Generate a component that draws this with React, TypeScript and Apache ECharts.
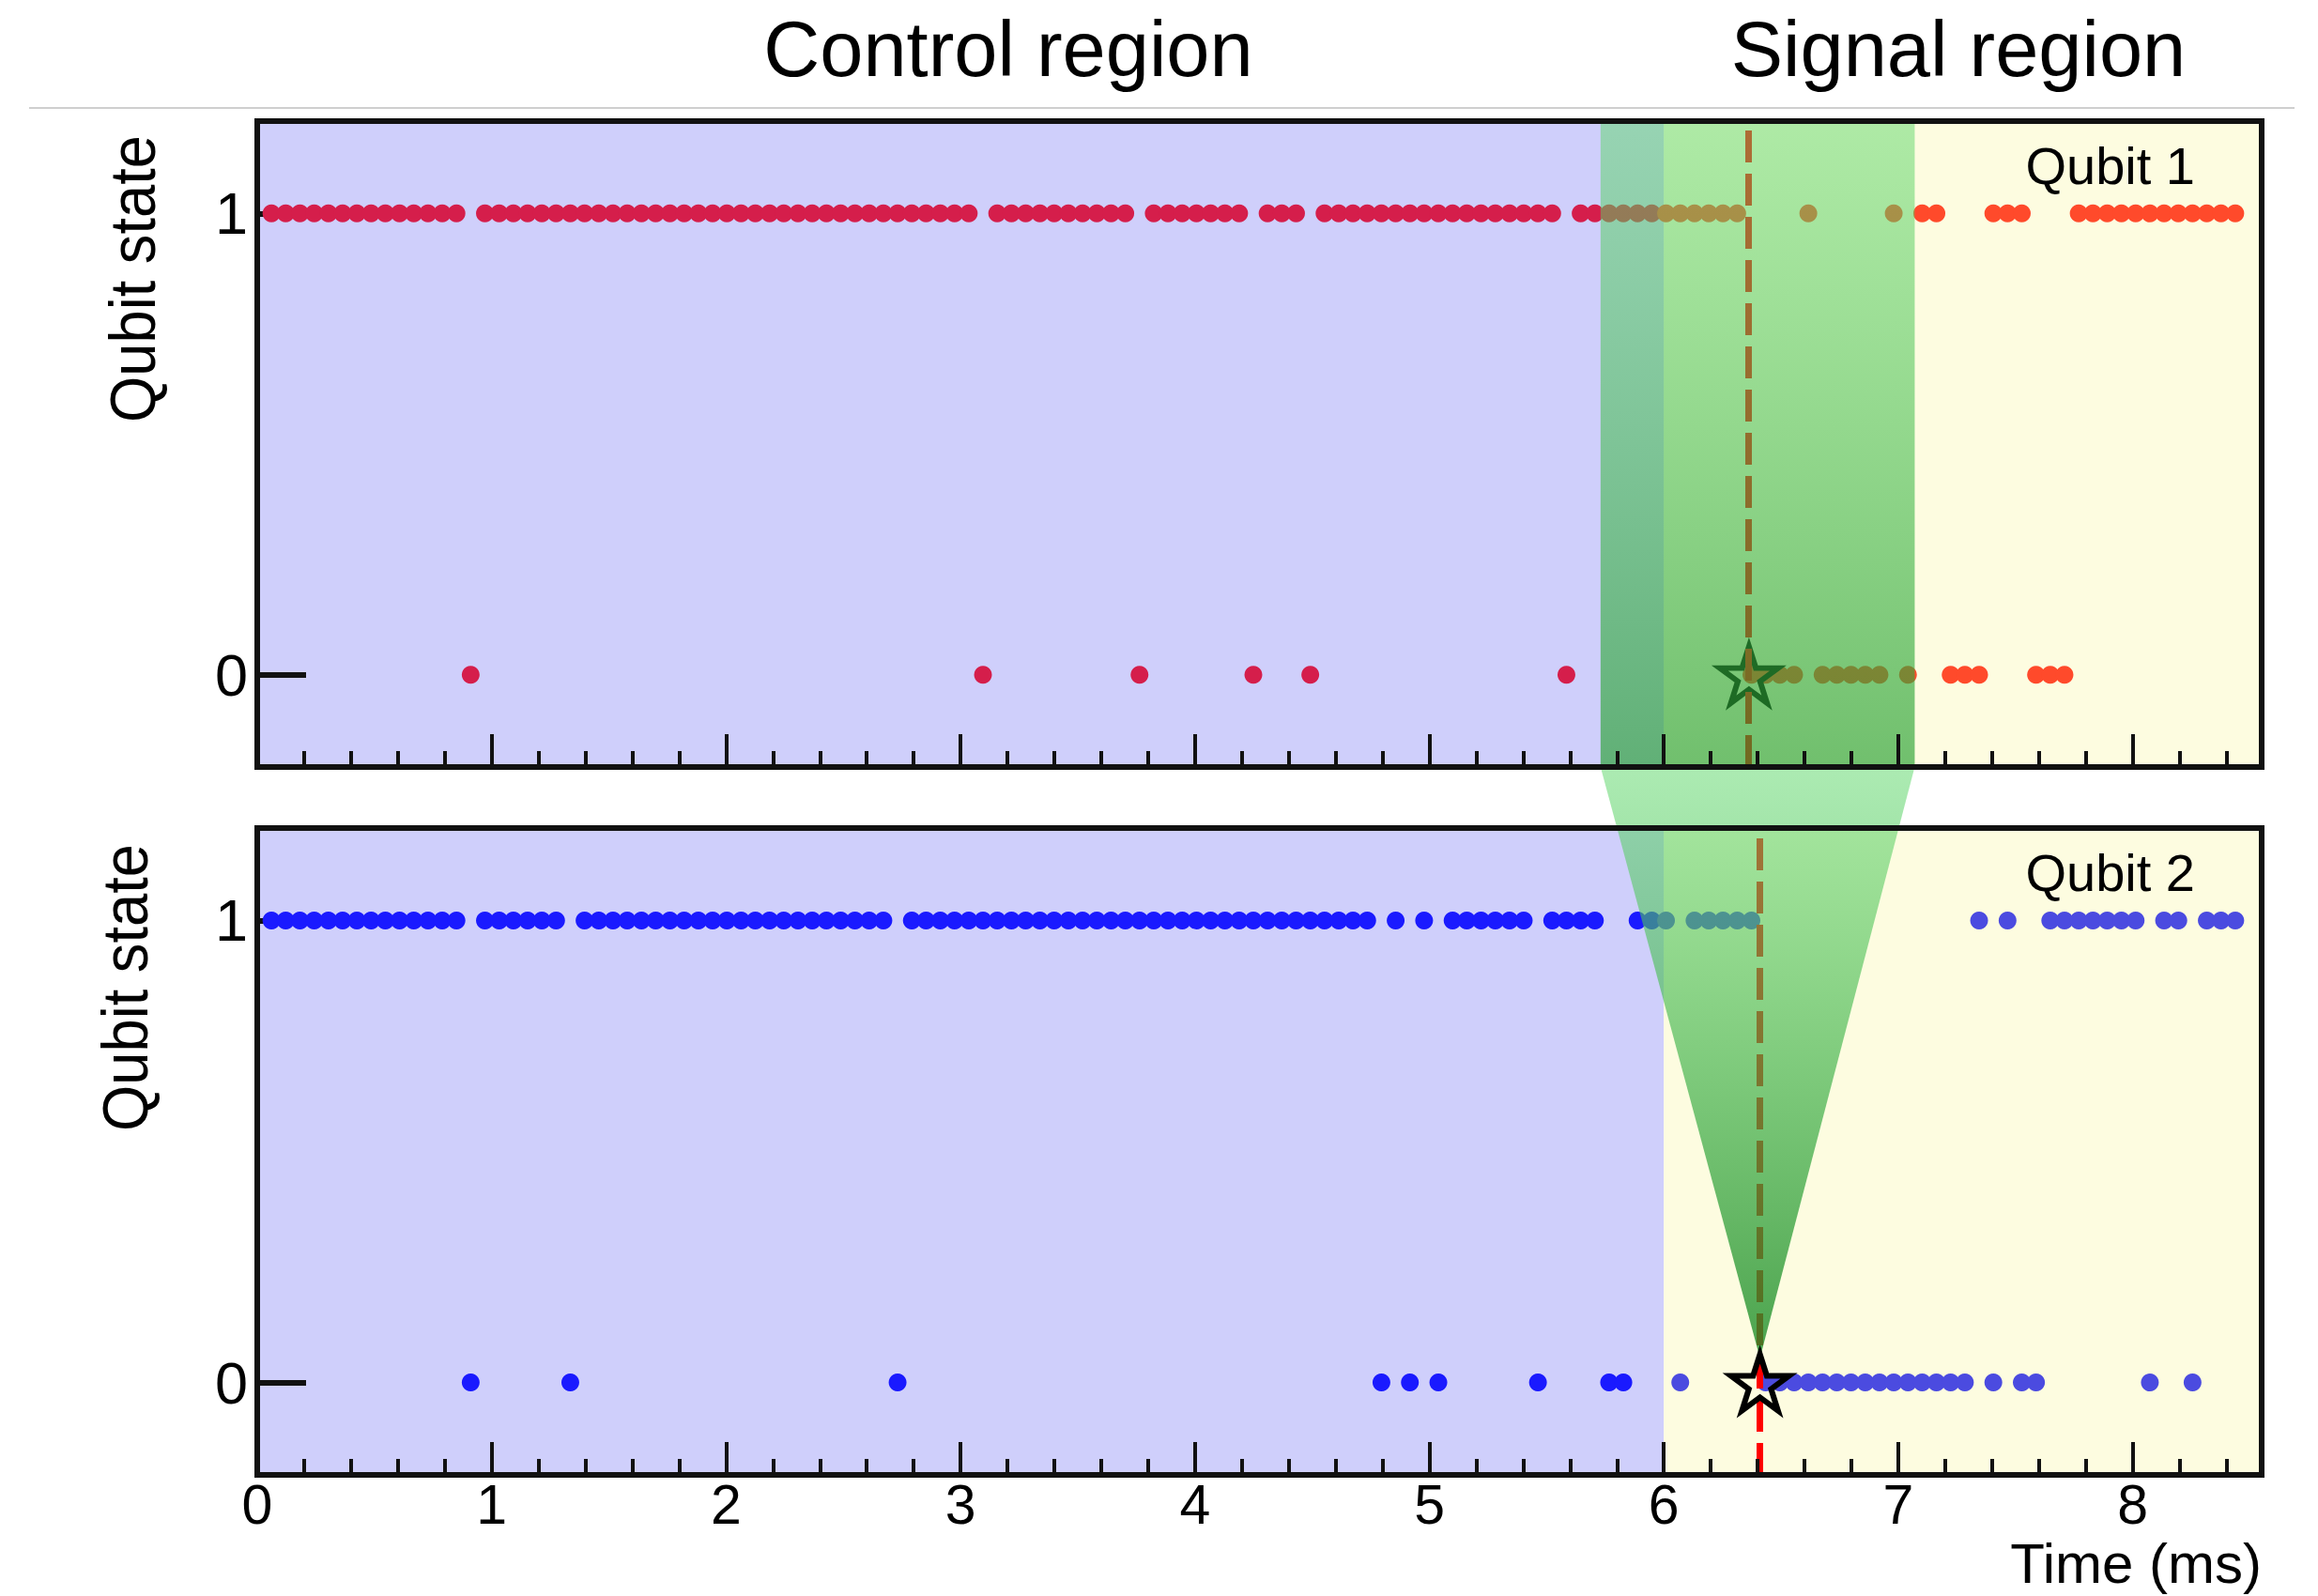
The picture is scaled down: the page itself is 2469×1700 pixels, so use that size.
import React, { useEffect, useRef } from "react";
import * as echarts from "echarts";

const FONT = '"Liberation Sans", Arial, Helvetica, sans-serif';

// Readouts every SAMPLE_INTERVAL_MS, readout index k = 1..139
const SAMPLE_INTERVAL_MS = 0.0607;

const QUBIT1_STATES = [
  1, 1, 1, 1, 1, 1, 1, 1, 1, 1,
  1, 1, 1, 1, 0, 1, 1, 1, 1, 1,
  1, 1, 1, 1, 1, 1, 1, 1, 1, 1,
  1, 1, 1, 1, 1, 1, 1, 1, 1, 1,
  1, 1, 1, 1, 1, 1, 1, 1, 1, 1,
  0, 1, 1, 1, 1, 1, 1, 1, 1, 1,
  1, 0, 1, 1, 1, 1, 1, 1, 1, 0,
  1, 1, 1, 0, 1, 1, 1, 1, 1, 1,
  1, 1, 1, 1, 1, 1, 1, 1, 1, 1,
  1, 0, 1, 1, 1, 1, 1, 1, 1, 1,
  1, 1, 1, 1, 0, 0, 0, 0, 1, 0,
  0, 0, 0, 0, 1, 0, 1, 1, 0, 0,
  0, 1, 1, 1, 0, 0, 0, 1, 1, 1,
  1, 1, 1, 1, 1, 1, 1, 1, 1,
];

const QUBIT2_STATES = [
  1, 1, 1, 1, 1, 1, 1, 1, 1, 1,
  1, 1, 1, 1, 0, 1, 1, 1, 1, 1,
  1, 0, 1, 1, 1, 1, 1, 1, 1, 1,
  1, 1, 1, 1, 1, 1, 1, 1, 1, 1,
  1, 1, 1, 1, 0, 1, 1, 1, 1, 1,
  1, 1, 1, 1, 1, 1, 1, 1, 1, 1,
  1, 1, 1, 1, 1, 1, 1, 1, 1, 1,
  1, 1, 1, 1, 1, 1, 1, 1, 0, 1,
  0, 1, 0, 1, 1, 1, 1, 1, 1, 0,
  1, 1, 1, 1, 0, 0, 1, 1, 1, 0,
  1, 1, 1, 1, 1, 0, 0, 0, 0, 0,
  0, 0, 0, 0, 0, 0, 0, 0, 0, 0,
  1, 0, 1, 0, 0, 1, 1, 1, 1, 1,
  1, 1, 0, 1, 1, 0, 1, 1, 1,
];

const X_MIN = 0;
const X_MAX = 8.55;
const Y_MIN = -0.2;
const Y_MAX = 1.2;
const X_MAJOR_TICKS = [0, 1, 2, 3, 4, 5, 6, 7, 8];
const X_MINOR_TICKS = [
  0.2, 0.4, 0.6, 0.8, 1.2, 1.4, 1.6, 1.8, 2.2, 2.4, 2.6, 2.8, 3.2, 3.4, 3.6, 3.8,
  4.2, 4.4, 4.6, 4.8, 5.2, 5.4, 5.6, 5.8, 6.2, 6.4, 6.6, 6.8, 7.2, 7.4, 7.6, 7.8,
  8.2, 8.4,
];
const Y_TICKS = [0, 1];

const CONTROL_REGION = [0, 6];
const SIGNAL_REGION = [6, 8.55];
const ZOOM_WINDOW = [5.73, 7.07];
const JUMP_TIMES = [6.363, 6.41]; // qubit 1, qubit 2

const REGION_TITLES = ["Control region", "Signal region"];
const PANEL_LABELS = ["Qubit 1", "Qubit 2"];
const Y_TITLE = "Qubit state";
const X_TITLE = "Time (ms)";

const COLORS = {
  control: "#CFCFFB",
  signal: "#FDFCE0",
  q1Control: "#D51E4B",
  q1Signal: "#FF4A2B",
  q2Control: "#1A1AFF",
  q2Signal: "#4B4BE0",
};

const STAR =
  "path://M50 0L61.2 34.5L97.6 34.5L68.2 55.9L79.4 90.5L50 69.1L20.6 90.5L31.8 55.9L2.4 34.5L38.8 34.5Z";

const GRIDS = [
  { left: 274, top: 129, width: 2135, height: 688 },
  { left: 274, top: 882, width: 2135, height: 689 },
];

function points(states: number[]) {
  return states.map((s, i) => [(i + 1) * SAMPLE_INTERVAL_MS, s]);
}

export default function App() {
  const ref = useRef<HTMLDivElement>(null);

  useEffect(() => {
    if (!ref.current) return;
    const chart = echarts.init(ref.current, undefined, { renderer: "svg" });

    const xAxes: any[] = [];
    const yAxes: any[] = [];
    GRIDS.forEach((_, gi) => {
      const base = { type: "value", gridIndex: gi, min: X_MIN, max: X_MAX, splitLine: { show: false } };
      xAxes.push({
        ...base,
        position: "bottom",
        z: 150,
        axisLine: { show: true, onZero: false, lineStyle: { color: "#111", width: 6, cap: "square" } },
        axisTick: { show: true, inside: true, length: 35, customValues: X_MAJOR_TICKS, lineStyle: { color: "#111", width: 4 } },
        axisLabel: {
          show: gi === 1,
          customValues: X_MAJOR_TICKS,
          fontSize: 59,
          lineHeight: 58,
          fontFamily: FONT,
          color: "#000",
          margin: 3,
        },
      });
      xAxes.push({
        ...base,
        position: "bottom",
        z: 150,
        axisLine: { show: false, onZero: false },
        axisTick: { show: true, inside: true, length: 17, customValues: X_MINOR_TICKS, lineStyle: { color: "#111", width: 4 } },
        axisLabel: { show: false },
      });
      xAxes.push({
        ...base,
        position: "top",
        z: 150,
        axisLine: { show: true, onZero: false, lineStyle: { color: "#111", width: 6, cap: "square" } },
        axisTick: { show: false },
        axisLabel: { show: false },
      });
      const ybase = { type: "value", gridIndex: gi, min: Y_MIN, max: Y_MAX, splitLine: { show: false } };
      yAxes.push({
        ...ybase,
        position: "left",
        z: 1.5,
        axisLine: { show: false, onZero: false },
        axisTick: { show: true, inside: true, length: 52, customValues: Y_TICKS, lineStyle: { color: "#111", width: 6 } },
        axisLabel: { show: true, customValues: Y_TICKS, fontSize: 63, fontFamily: FONT, color: "#000", margin: 10 },
      });
      yAxes.push({
        ...ybase,
        position: "left",
        z: 150,
        axisLine: { show: true, onZero: false, lineStyle: { color: "#111", width: 6, cap: "square" } },
        axisTick: { show: false },
        axisLabel: { show: false },
      });
      yAxes.push({
        ...ybase,
        position: "right",
        z: 150,
        axisLine: { show: true, onZero: false, lineStyle: { color: "#111", width: 6, cap: "square" } },
        axisTick: { show: false },
        axisLabel: { show: false },
      });
    });

    const qubits = [
      { states: QUBIT1_STATES, c: COLORS.q1Control, s: COLORS.q1Signal },
      { states: QUBIT2_STATES, c: COLORS.q2Control, s: COLORS.q2Signal },
    ];

    const series: any[] = [];
    qubits.forEach((q, gi) => {
      const pts = points(q.states);
      const xi = gi * 3;
      const yi = gi * 3;
      series.push({
        type: "scatter",
        xAxisIndex: xi,
        yAxisIndex: yi,
        z: 2,
        silent: true,
        symbol: "circle",
        symbolSize: 19,
        itemStyle: { color: q.c, opacity: 1 },
        data: pts.filter((p) => p[0] < SIGNAL_REGION[0]),
        markArea: {
          silent: true,
          z: 1,
          label: { show: false },
          data: [
            [{ xAxis: CONTROL_REGION[0], itemStyle: { color: COLORS.control, opacity: 1 } }, { xAxis: CONTROL_REGION[1] }],
            [{ xAxis: SIGNAL_REGION[0], itemStyle: { color: COLORS.signal, opacity: 1 } }, { xAxis: SIGNAL_REGION[1] }],
          ],
        },
        markLine: {
          silent: true,
          z: 5,
          symbol: ["none", "none"],
          label: { show: false },
          lineStyle: { color: "#FF0000", width: 7, type: [34, 12], opacity: 1 },
          data: [{ xAxis: JUMP_TIMES[gi] }],
        },
      });
      series.push({
        type: "scatter",
        xAxisIndex: xi,
        yAxisIndex: yi,
        z: 2,
        silent: true,
        symbol: "circle",
        symbolSize: 19,
        itemStyle: { color: q.s, opacity: 1 },
        data: pts.filter((p) => p[0] >= SIGNAL_REGION[0]),
      });
      series.push({
        type: "scatter",
        xAxisIndex: xi,
        yAxisIndex: yi,
        z: gi === 0 ? 3 : 200,
        silent: true,
        symbol: STAR,
        symbolSize: [62, 60],
        itemStyle: { color: "transparent", borderColor: "#000", borderWidth: 6, opacity: 1 },
        data: [[JUMP_TIMES[gi], 0]],
      });
    });

    chart.setOption({
      animation: false,
      backgroundColor: "#ffffff",
      grid: GRIDS.map((g) => ({ ...g, containLabel: false })),
      xAxis: xAxes,
      yAxis: yAxes,
      series,
    });

    const tl = chart.convertToPixel({ seriesIndex: 0 }, [ZOOM_WINDOW[0], Y_MAX]) as number[];
    const br = chart.convertToPixel({ seriesIndex: 0 }, [ZOOM_WINDOW[1], Y_MIN]) as number[];
    const apex = chart.convertToPixel({ seriesIndex: 3 }, [JUMP_TIMES[1], 0]) as number[];

    const textStyle = (extra: any) => ({ fontFamily: FONT, fill: "#000", ...extra });

    chart.setOption({
      graphic: [
        {
          type: "rect",
          z: 100,
          silent: true,
          shape: { x: tl[0], y: tl[1], width: br[0] - tl[0], height: br[1] - tl[1] },
          style: {
            fill: new echarts.graphic.LinearGradient(0, 0, 0, 1, [
              { offset: 0, color: "rgba(95,216,107,0.5)" },
              { offset: 1, color: "rgba(40,160,50,0.66)" },
            ]),
          },
        },
        {
          type: "polygon",
          z: 100,
          silent: true,
          shape: {
            points: [
              [tl[0], br[1]],
              [br[0], br[1]],
              [apex[0], apex[1] - 26],
            ],
          },
          style: {
            fill: new echarts.graphic.LinearGradient(0, 0, 0, 1, [
              { offset: 0, color: "rgba(95,216,107,0.52)" },
              { offset: 1, color: "rgba(30,140,40,0.8)" },
            ]),
          },
        },
        {
          type: "line",
          z: 10,
          silent: true,
          shape: { x1: 31, y1: 115, x2: 2444, y2: 115 },
          style: { stroke: "#CFCFCF", lineWidth: 2 },
        },
        {
          type: "text",
          z: 10,
          x: 1074,
          y: 52,
          style: textStyle({ text: REGION_TITLES[0], fontSize: 83, align: "center", verticalAlign: "middle" }),
        },
        {
          type: "text",
          z: 10,
          x: 2086,
          y: 52,
          style: textStyle({ text: REGION_TITLES[1], fontSize: 83, align: "center", verticalAlign: "middle" }),
        },
        {
          type: "text",
          z: 10,
          x: 142,
          y: 297,
          rotation: Math.PI / 2,
          scaleX: 0.93,
          style: textStyle({ text: Y_TITLE, fontSize: 68, align: "center", verticalAlign: "middle" }),
        },
        {
          type: "text",
          z: 10,
          x: 134,
          y: 1052,
          rotation: Math.PI / 2,
          scaleX: 0.93,
          style: textStyle({ text: Y_TITLE, fontSize: 68, align: "center", verticalAlign: "middle" }),
        },
        {
          type: "text",
          z: 160,
          x: 2338,
          y: 176,
          style: textStyle({ text: PANEL_LABELS[0], fontSize: 56, align: "right", verticalAlign: "middle" }),
        },
        {
          type: "text",
          z: 160,
          x: 2338,
          y: 929,
          style: textStyle({ text: PANEL_LABELS[1], fontSize: 56, align: "right", verticalAlign: "middle" }),
        },
        {
          type: "text",
          z: 10,
          x: 2409,
          y: 1665,
          style: textStyle({ text: X_TITLE, fontSize: 60, lineHeight: 58, align: "right", verticalAlign: "middle" }),
        },
      ],
    });

    return () => chart.dispose();
  }, []);

  return (
    <div
      ref={ref}
      style={{ position: "fixed", left: 0, top: 0, width: 2469, height: 1700, background: "#fff" }}
    />
  );
}
